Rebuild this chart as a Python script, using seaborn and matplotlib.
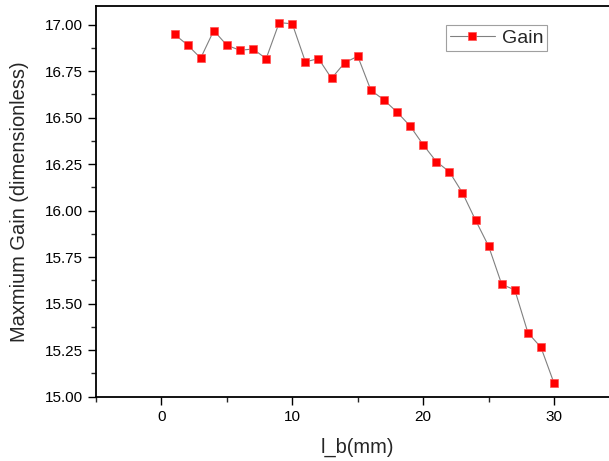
import numpy as np
import pandas as pd
import seaborn as sns
import matplotlib.pyplot as plt
from matplotlib.ticker import MultipleLocator

# l_b values (mm) and read-off maximum gain
l_b = [1, 2, 3, 4, 5, 6, 7, 8, 9, 10,
       11, 12, 13, 14, 15, 16, 17, 18, 19, 20,
       21, 22, 23, 24, 25, 26, 27, 28, 29, 30]
gain = [16.948, 16.890, 16.820, 16.968, 16.889, 16.862, 16.869, 16.817, 17.011, 17.004,
        16.800, 16.817, 16.711, 16.795, 16.830, 16.648, 16.595, 16.530, 16.455, 16.354,
        16.264, 16.209, 16.096, 15.949, 15.809, 15.604, 15.574, 15.344, 15.265, 15.072]

df = pd.DataFrame({"l_b": l_b, "gain": gain})

sns.set_style("ticks")
plt.rcParams['font.family'] = ['Liberation Sans', 'DejaVu Sans']

fig = plt.figure(figsize=(6.09, 4.61), dpi=100)
ax = fig.add_axes([96 / 609, 64.3 / 461, 523.5 / 609, 390.7 / 461])

sns.lineplot(x="l_b", y="gain", data=df, ax=ax, color="#808080", linewidth=0.8,
             marker="s", markersize=5.6, markerfacecolor="#ff0000",
             markeredgecolor="#ff5050", markeredgewidth=0.5, label="Gain")

ax.set_xlim(-5, 35)
ax.set_ylim(15.0, 17.1)
ax.xaxis.set_major_locator(MultipleLocator(10))
ax.xaxis.set_minor_locator(MultipleLocator(5))
ax.yaxis.set_major_locator(MultipleLocator(0.25))
ax.yaxis.set_minor_locator(MultipleLocator(0.125))
ax.yaxis.set_major_formatter(plt.FormatStrFormatter("%.2f"))

ax.tick_params(which="major", direction="out", length=5.8, width=1, labelsize=11, colors="black")
ax.tick_params(which="minor", direction="out", length=3.3, width=1)
for s in ax.spines.values():
    s.set_linewidth(1.3)
    s.set_color("black")

ax.set_xlabel("l_b(mm)", fontsize=14.4)
ax.set_ylabel("Maxmium Gain (dimensionless)", fontsize=14.4)
ax.xaxis.set_label_coords(0.5, -0.105)
ax.yaxis.set_label_coords(-0.128, 0.5)

leg = ax.legend(loc="upper left", bbox_to_anchor=(0.669, 0.951), borderaxespad=0,
                fontsize=14, fancybox=False, edgecolor="#a0a0a0", framealpha=1,
                handlelength=2.3, handletextpad=0.35, borderpad=0.2)
leg.get_frame().set_linewidth(0.8)

fig.savefig("out.png", dpi=100)
